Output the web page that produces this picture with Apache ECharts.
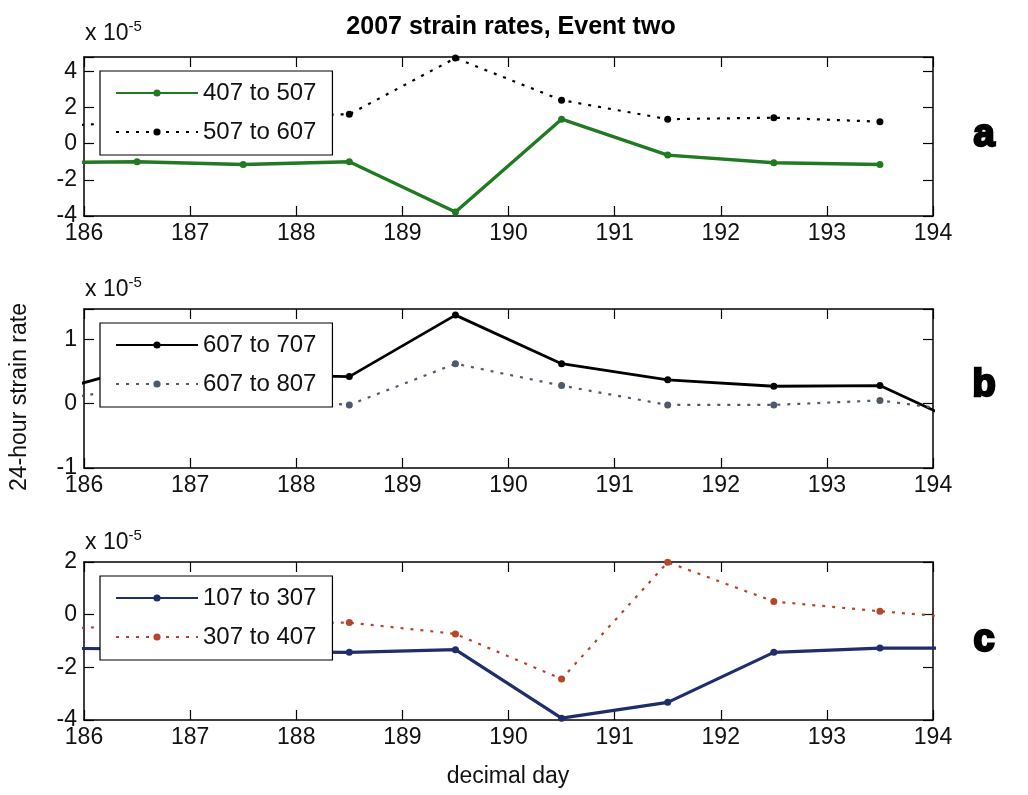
<!DOCTYPE html>
<html><head><meta charset="utf-8">
<script src="https://cdn.jsdelivr.net/npm/echarts@6/dist/echarts.min.js"></script>
<style>html,body{margin:0;padding:0;background:#fff}#c{width:1028px;height:795px}</style>
</head><body><div id="c"></div>
<script>
// ---- data (units of 1e-5) ----
const title = '2007 strain rates, Event two';
const xLabel = 'decimal day';
const yLabel = '24-hour strain rate';
const panelLetters = ['a', 'b', 'c'];

const daysA = [185.5, 186.5, 187.5, 188.5, 189.5, 190.5, 191.5, 192.5, 193.5];
const daysBC = [185.5, 186.5, 187.5, 188.5, 189.5, 190.5, 191.5, 192.5, 193.5, 194.5];

const namesA = ['407 to 507', '507 to 607'];
const s407to507 = [-1.05, -1.0, -1.15, -1.0, -3.78, 1.36, -0.63, -1.05, -1.15];
const s507to607 = [0.9, 1.2, 1.5, 1.63, 4.74, 2.41, 1.36, 1.44, 1.22];

const namesB = ['607 to 707', '607 to 807'];
const s607to707 = [0.1, 0.55, 0.45, 0.42, 1.375, 0.62, 0.37, 0.27, 0.28, -0.48];
const s607to807 = [0.0, 0.25, 0.1, -0.02, 0.62, 0.28, -0.02, -0.02, 0.05, -0.17];

const namesC = ['107 to 307', '307 to 407'];
const s107to307 = [-1.27, -1.3, -1.4, -1.43, -1.33, -3.93, -3.33, -1.43, -1.27, -1.27];
const s307to407 = [-0.6, -0.4, -0.35, -0.3, -0.73, -2.44, 1.99, 0.5, 0.13, -0.2];

const xMin = 186, xMax = 194, xStep = 1;
const yRanges = [
  {min: -4, max: 4.8, interval: 2},
  {min: -1, max: 1.47, interval: 1},
  {min: -4, max: 2, interval: 2}
];

// ---- chart ----
const FONT = "'Liberation Sans', Arial, sans-serif";
const grids = [
  {left: 84, top: 57, width: 849, height: 159},
  {left: 84, top: 309, width: 849, height: 159},
  {left: 84, top: 562, width: 849, height: 158}
];
const axisLine = {show: true, onZero: false, lineStyle: {color: '#000', width: 1.5}};
const tick = {show: true, inside: true, length: 10, lineStyle: {color: '#000', width: 1.2}};
const xAxes = [], yAxes = [];
grids.forEach((g, i) => {
  ['bottom', 'top'].forEach((pos, k) => {
    xAxes.push({type: 'value', gridIndex: i, position: pos, min: xMin, max: xMax, interval: xStep,
      axisLine, axisTick: tick, splitLine: {show: false},
      axisLabel: {show: k === 0, fontSize: 23, fontFamily: FONT, color: '#111', margin: 6}});
  });
  const r = yRanges[i];
  ['left', 'right'].forEach((pos, k) => {
    yAxes.push({type: 'value', gridIndex: i, position: pos, min: r.min, max: r.max, interval: r.interval,
      axisLine, axisTick: tick, splitLine: {show: false},
      axisLabel: {show: k === 0, fontSize: 23, fontFamily: FONT, color: '#111', margin: 7,
        formatter: v => (Math.abs(v / r.interval - Math.round(v / r.interval)) < 1e-6 ? String(Math.round(v)) : '')}});
  });
});

function pts(days, vals) { return days.map((d, j) => [d, vals[j]]); }
function mk(name, days, vals, panel, color, width, dotted) {
  return {
    type: 'line', name, xAxisIndex: panel * 2, yAxisIndex: panel * 2,
    data: pts(days, vals), symbol: 'circle', symbolSize: 7, showSymbol: true,
    itemStyle: {color}, lineStyle: {color, width, type: dotted ? [3, 7] : 'solid'},
    clip: true, animation: false
  };
}
const series = [
  mk(namesA[0], daysA, s407to507, 0, '#217a21', 3.4, false),
  mk(namesA[1], daysA, s507to607, 0, '#000000', 2.2, true),
  mk(namesB[0], daysBC, s607to707, 1, '#000000', 2.8, false),
  mk(namesB[1], daysBC, s607to807, 1, '#4d5a6b', 2.2, true),
  mk(namesC[0], daysBC, s107to307, 2, '#1f2d6b', 3.2, false),
  mk(namesC[1], daysBC, s307to407, 2, '#b5462a', 2.2, true)
];

const legendTops = [71, 323, 576];
const legendNames = [namesA, namesB, namesC];
const legends = legendNames.map((names, i) => ({
  data: names, orient: 'vertical', left: 100, top: legendTops[i],
  backgroundColor: '#fff', borderColor: '#000', borderWidth: 1.2, borderRadius: 0,
  padding: [10, 16, 11, 15], itemGap: 15, itemWidth: 82, itemHeight: 9,
  textStyle: {fontSize: 24, fontFamily: FONT, color: '#111', lineHeight: 24},
  selectedMode: false, z: 10
}));

const graphic = [
  {type: 'text', x: 511, y: 27, style: {text: title, font: 'bold 25px ' + FONT, fill: '#000', align: 'center', verticalAlign: 'middle'}},
  {type: 'text', x: 508, y: 777, style: {text: xLabel, font: '23px ' + FONT, fill: '#111', align: 'center', verticalAlign: 'middle'}},
  {type: 'text', x: 20, y: 397, rotation: Math.PI / 2, style: {text: yLabel, font: '23px ' + FONT, fill: '#111', align: 'center', verticalAlign: 'middle'}}
];
const expoY = [34, 290, 543];
expoY.forEach(y => {
  graphic.push({type: 'text', x: 85, y: y, style: {
    text: '{b|x 10}{s|-5}', fill: '#111', verticalAlign: 'middle',
    rich: {b: {fontSize: 23, fontFamily: FONT, color: '#111'}, s: {fontSize: 15, fontFamily: FONT, color: '#111', verticalAlign: 'bottom', padding: [0, 0, 14, 0]}}
  }});
});
const letterY = [136, 386, 641];
panelLetters.forEach((L, i) => {
  graphic.push({type: 'text', x: 984, y: letterY[i], style: {text: L, font: '900 38px ' + FONT, fill: '#000',
    stroke: '#000', lineWidth: 2.5, align: 'center', verticalAlign: 'middle'}});
});

const chart = echarts.init(document.getElementById('c'), null, {renderer: 'canvas'});
chart.setOption({
  backgroundColor: '#fff', animation: false,
  grid: grids, xAxis: xAxes, yAxis: yAxes, series, legend: legends, graphic
});
</script></body></html>
